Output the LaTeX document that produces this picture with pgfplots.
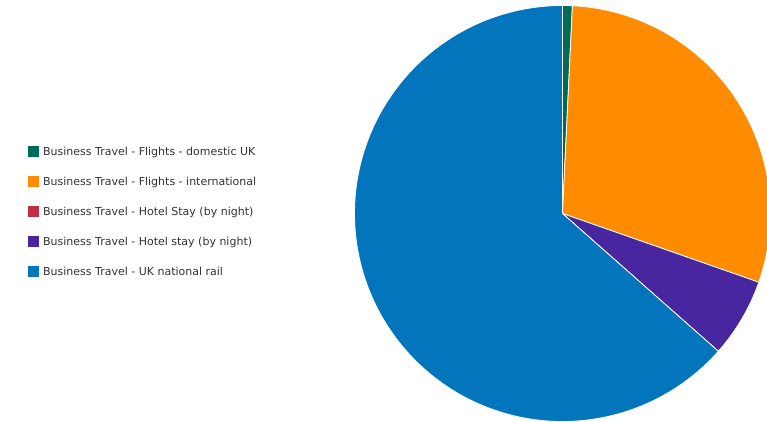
\documentclass[border=0pt]{standalone}
\usepackage{fontspec}
\setmainfont{DejaVu Sans}
\usepackage{pgfplots}
\pgfplotsset{compat=1.18}

\definecolor{cGreen}{RGB}{0,107,90}
\definecolor{cOrange}{RGB}{255,140,0}
\definecolor{cRed}{RGB}{190,48,64}
\definecolor{cPurple}{RGB}{72,38,160}
\definecolor{cBlue}{RGB}{3,117,189}
\definecolor{txt}{RGB}{51,51,51}

% shares in percent
\def\vGreen{0.76}
\def\vOrange{29.60}
\def\vRed{0}
\def\vPurple{6.16}
\def\vBlue{63.48}

\begin{document}
\begin{tikzpicture}
\useasboundingbox (0,0) rectangle (767pt,421pt);
\pgfmathsetmacro{\aA}{90}
\pgfmathsetmacro{\aB}{\aA-3.6*\vGreen}
\pgfmathsetmacro{\aC}{\aB-3.6*\vOrange}
\pgfmathsetmacro{\aD}{\aC-3.6*\vRed}
\pgfmathsetmacro{\aE}{\aD-3.6*\vPurple}
\pgfmathsetmacro{\aF}{\aE-3.6*\vBlue}
\begin{axis}[
    at={(562.5pt,207.5pt)}, anchor=center,
    scale only axis, width=416pt, height=416pt,
    xmin=-1, xmax=1, ymin=-1, ymax=1,
    hide axis, clip=false,
    legend cell align=left,
    legend image code/.code={\fill[#1, draw=none] (0pt,-5.5pt) rectangle (11pt,5.5pt);},
    legend style={at={(-0.785,0.662)}, anchor=north west, draw=none, fill=none,
        inner sep=0pt, row sep=19pt, text=txt,
        font=\fontsize{11}{13}\selectfont,
        nodes={inner sep=0pt, anchor=west},
        /tikz/every odd column/.append style={column sep=4pt}},
]
\addplot[fill=cGreen, draw=white, line width=0.8pt, domain=\aB:\aA, samples=10, variable=\t]
    ({cos(\t)},{sin(\t)}) -- (axis cs:0,0) -- cycle;
\addlegendentry{Business Travel - Flights - domestic UK}
\addplot[fill=cOrange, draw=white, line width=0.8pt, domain=\aC:\aB, samples=120, variable=\t]
    ({cos(\t)},{sin(\t)}) -- (axis cs:0,0) -- cycle;
\addlegendentry{Business Travel - Flights - international}
\addlegendimage{fill=cRed}
\addlegendentry{Business Travel - Hotel Stay (by night)}
\addplot[fill=cPurple, draw=white, line width=0.8pt, domain=\aE:\aD, samples=40, variable=\t]
    ({cos(\t)},{sin(\t)}) -- (axis cs:0,0) -- cycle;
\addlegendentry{Business Travel - Hotel stay (by night)}
\addplot[fill=cBlue, draw=white, line width=0.8pt, domain=\aF:\aE, samples=240, variable=\t]
    ({cos(\t)},{sin(\t)}) -- (axis cs:0,0) -- cycle;
\addlegendentry{Business Travel - UK national rail}
\end{axis}
\end{tikzpicture}
\end{document}
